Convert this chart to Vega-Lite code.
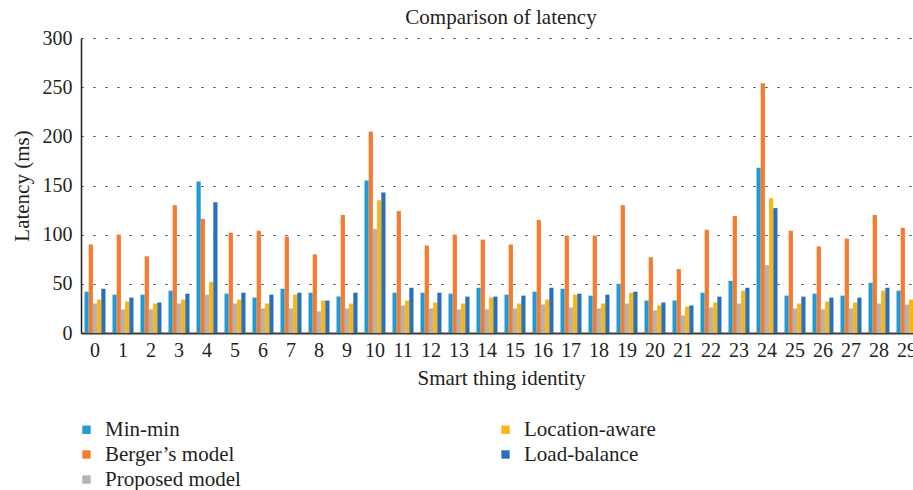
{
  "$schema": "https://vega.github.io/schema/vega-lite/v6.json",
  "autosize": {"type": "none"},
  "width": 840,
  "height": 295,
  "padding": {"left": 81, "top": 38, "right": -8, "bottom": 157},
  "background": "white",
  "title": {"text": "Comparison of latency", "font": "Liberation Serif", "fontSize": 21, "fontWeight": "normal", "color": "#231f20", "offset": 0},
  "data": {"values": [
    {"id": 0, "Min-min": 42, "Berger’s model": 90, "Proposed model": 30, "Location-aware": 34, "Load-balance": 45},
    {"id": 1, "Min-min": 39, "Berger’s model": 100, "Proposed model": 24, "Location-aware": 32, "Load-balance": 36},
    {"id": 2, "Min-min": 39, "Berger’s model": 78, "Proposed model": 24, "Location-aware": 30, "Load-balance": 31},
    {"id": 3, "Min-min": 43, "Berger’s model": 130, "Proposed model": 30, "Location-aware": 34, "Load-balance": 40},
    {"id": 4, "Min-min": 154, "Berger’s model": 116, "Proposed model": 39, "Location-aware": 52, "Load-balance": 133},
    {"id": 5, "Min-min": 40, "Berger’s model": 102, "Proposed model": 30, "Location-aware": 34, "Load-balance": 41},
    {"id": 6, "Min-min": 36, "Berger’s model": 104, "Proposed model": 25, "Location-aware": 30, "Load-balance": 39},
    {"id": 7, "Min-min": 45, "Berger’s model": 98, "Proposed model": 25, "Location-aware": 39, "Load-balance": 41},
    {"id": 8, "Min-min": 41, "Berger’s model": 80, "Proposed model": 22, "Location-aware": 33, "Load-balance": 33},
    {"id": 9, "Min-min": 37, "Berger’s model": 120, "Proposed model": 25, "Location-aware": 30, "Load-balance": 41},
    {"id": 10, "Min-min": 155, "Berger’s model": 205, "Proposed model": 106, "Location-aware": 135, "Load-balance": 143},
    {"id": 11, "Min-min": 41, "Berger’s model": 124, "Proposed model": 28, "Location-aware": 33, "Load-balance": 46},
    {"id": 12, "Min-min": 41, "Berger’s model": 89, "Proposed model": 25, "Location-aware": 31, "Load-balance": 41},
    {"id": 13, "Min-min": 40, "Berger’s model": 100, "Proposed model": 24, "Location-aware": 30, "Load-balance": 37},
    {"id": 14, "Min-min": 46, "Berger’s model": 95, "Proposed model": 24, "Location-aware": 36, "Load-balance": 37},
    {"id": 15, "Min-min": 39, "Berger’s model": 90, "Proposed model": 25, "Location-aware": 30, "Load-balance": 38},
    {"id": 16, "Min-min": 42, "Berger’s model": 115, "Proposed model": 29, "Location-aware": 34, "Load-balance": 46},
    {"id": 17, "Min-min": 45, "Berger’s model": 99, "Proposed model": 26, "Location-aware": 39, "Load-balance": 40},
    {"id": 18, "Min-min": 38, "Berger’s model": 99, "Proposed model": 25, "Location-aware": 30, "Load-balance": 39},
    {"id": 19, "Min-min": 50, "Berger’s model": 130, "Proposed model": 30, "Location-aware": 41, "Load-balance": 42},
    {"id": 20, "Min-min": 33, "Berger’s model": 77, "Proposed model": 23, "Location-aware": 28, "Load-balance": 31},
    {"id": 21, "Min-min": 33, "Berger’s model": 65, "Proposed model": 18, "Location-aware": 27, "Load-balance": 28},
    {"id": 22, "Min-min": 41, "Berger’s model": 105, "Proposed model": 26, "Location-aware": 31, "Load-balance": 37},
    {"id": 23, "Min-min": 53, "Berger’s model": 119, "Proposed model": 30, "Location-aware": 43, "Load-balance": 46},
    {"id": 24, "Min-min": 168, "Berger’s model": 254, "Proposed model": 69, "Location-aware": 137, "Load-balance": 127},
    {"id": 25, "Min-min": 38, "Berger’s model": 104, "Proposed model": 25, "Location-aware": 30, "Load-balance": 37},
    {"id": 26, "Min-min": 40, "Berger’s model": 88, "Proposed model": 24, "Location-aware": 32, "Load-balance": 36},
    {"id": 27, "Min-min": 38, "Berger’s model": 96, "Proposed model": 25, "Location-aware": 31, "Load-balance": 36},
    {"id": 28, "Min-min": 51, "Berger’s model": 120, "Proposed model": 30, "Location-aware": 43, "Load-balance": 46},
    {"id": 29, "Min-min": 43, "Berger’s model": 107, "Proposed model": 29, "Location-aware": 34, "Load-balance": 43}
  ]},
  "transform": [
    {"fold": ["Min-min", "Berger’s model", "Proposed model", "Location-aware", "Load-balance"], "as": ["model", "latency"]}
  ],
  "mark": {"type": "bar"},
  "encoding": {
    "x": {
      "field": "id", "type": "ordinal",
      "scale": {"paddingInner": 0.25, "paddingOuter": 0.125},
      "axis": {"title": "Smart thing identity", "labelAngle": 0, "ticks": false, "labelPadding": 7, "domainColor": "#3a3a3a", "domainWidth": 2, "labelFont": "Liberation Serif", "labelFontSize": 20, "labelColor": "#231f20", "titleFont": "Liberation Serif", "titleFontSize": 21, "titleFontWeight": "normal", "titleColor": "#231f20", "titlePadding": 7}
    },
    "xOffset": {
      "field": "model", "type": "nominal",
      "scale": {"domain": ["Min-min", "Berger’s model", "Proposed model", "Location-aware", "Load-balance"], "paddingInner": 0}
    },
    "y": {
      "field": "latency", "type": "quantitative",
      "scale": {"domain": [0, 300]},
      "axis": {"title": "Latency (ms)", "values": [0, 50, 100, 150, 200, 250, 300], "ticks": false, "labelPadding": 9, "domainColor": "#231f20", "domainWidth": 1.5, "grid": true, "gridColor": "#333333", "gridDash": [2, 10], "gridWidth": 1.2, "labelFont": "Liberation Serif", "labelFontSize": 20, "labelColor": "#231f20", "titleFont": "Liberation Serif", "titleFontSize": 21, "titleFontWeight": "normal", "titleColor": "#231f20", "titlePadding": 10}
    },
    "color": {
      "field": "model", "type": "nominal",
      "scale": {
        "domain": ["Min-min", "Berger’s model", "Proposed model", "Location-aware", "Load-balance"],
        "range": ["#1f9bd7", "#f47b30", "#b3b3b3", "#fcb414", "#2a70b8"]
      },
      "legend": {"title": null, "orient": "none", "legendX": -5, "legendY": 381, "columns": 2, "columnPadding": 254, "rowPadding": 3, "symbolType": "square", "symbolSize": 70, "symbolStrokeWidth": 0, "symbolOffset": 0, "labelOffset": 8, "labelFont": "Liberation Serif", "labelFontSize": 21, "labelColor": "#231f20", "labelLimit": 300}
    }
  },
  "config": {"view": {"stroke": null}}
}
